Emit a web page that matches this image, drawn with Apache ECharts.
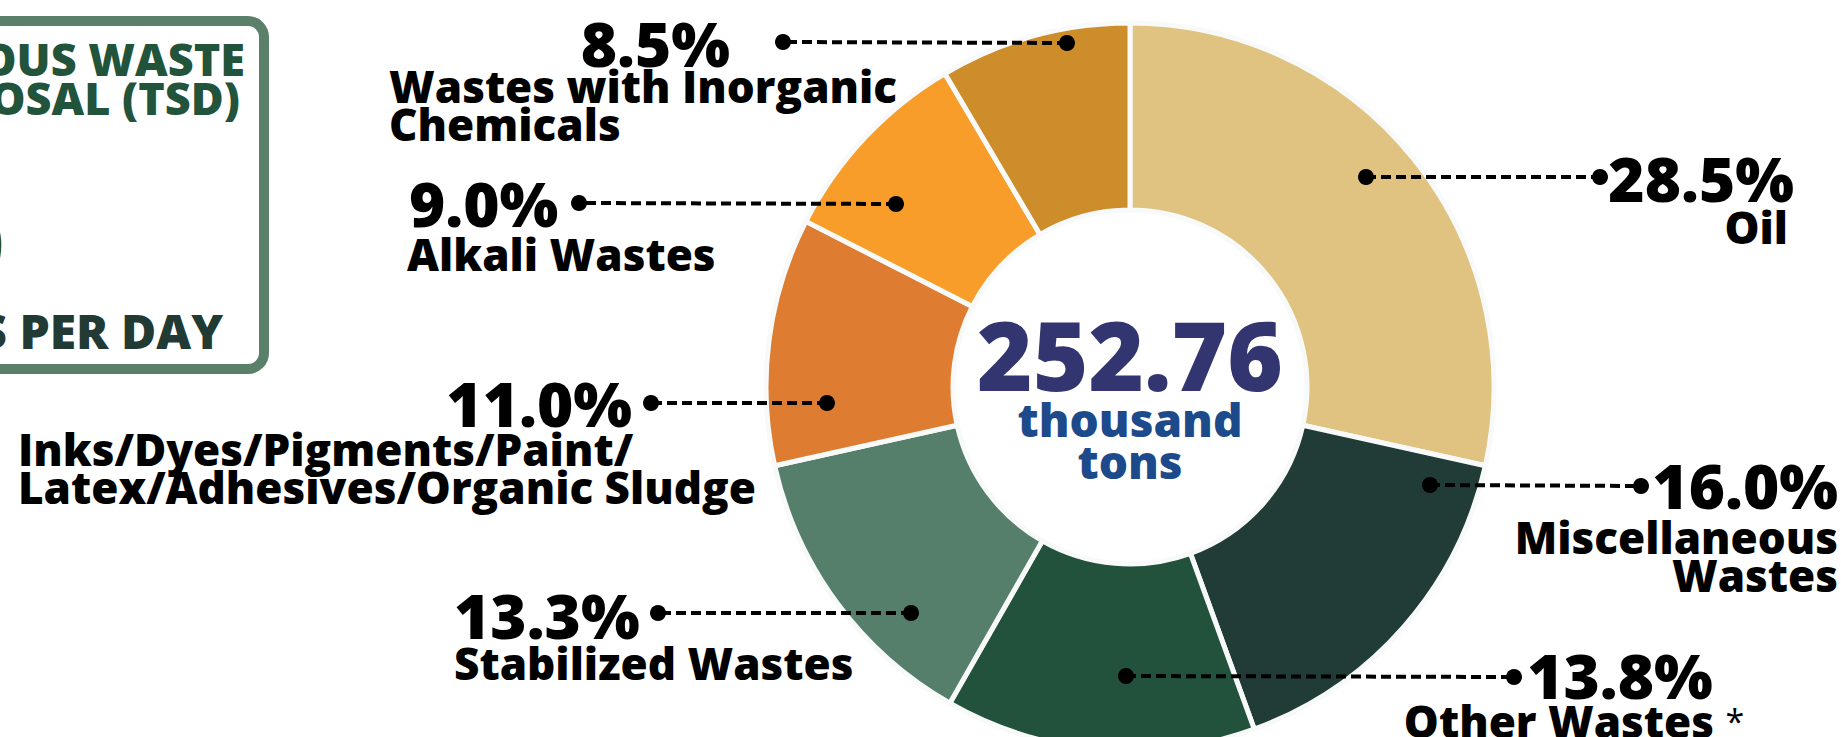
<!DOCTYPE html>
<html>
<head>
<meta charset="utf-8">
<title>Hazardous Waste TSD</title>
<script src="https://cdn.jsdelivr.net/npm/echarts@6/dist/echarts.min.js"></script>
<style>
  html, body { margin: 0; padding: 0; background: #fff; }
  #chart { width: 1841px; height: 737px; }
</style>
</head>
<body>
<div id="chart"></div>
<script>
// waste types, clockwise from 12 o'clock
const categories = [
  'Oil',
  'Miscellaneous\nWastes',
  'Other Wastes *',
  'Stabilized Wastes',
  'Inks/Dyes/Pigments/Paint/\nLatex/Adhesives/Organic Sludge',
  'Alkali Wastes',
  'Wastes with Inorganic\nChemicals'
]
const shares = [28.5, 16.0, 13.8, 13.3, 11.0, 9.0, 8.5]
const totalThousandTons = 252.76
const sliceColors = ['#e0c380', '#213b37', '#22523c', '#567f6b', '#de7d32', '#f89d29', '#cd8d2b']

// where the labels sit (px)
const leaderFrom = [[1366, 177], [1430, 485], [1126, 676], [911, 613], [827, 403], [896, 204], [1067, 43]]
const leaderTo = [[1600, 177], [1641, 486], [1514, 677], [658, 613], [651, 403], [579, 203], [783, 42]]
const pctPos = [[1794, 178, 'right'], [1838, 485, 'right'], [1620, 675, 'center'], [454, 615, 'left'],
  [632, 403, 'right'], [409, 203, 'left'], [730, 43, 'right']]
const namePos = [[1788, 227, 'right'], [1838, 556, 'right'], [1574, 721, 'center'], [454, 663, 'left'],
  [18, 468, 'left'], [407, 254, 'left'], [389, 105, 'left']]

const font = "'Open Sans', sans-serif"
const pieData = categories.map((name, i) => ({ name: name, value: shares[i] }))

let chart = echarts.init(document.getElementById('chart'), null, { renderer: 'svg' })

let dots = []
leaderFrom.concat(leaderTo).forEach(p => {
  dots.push({ type: 'circle', x: p[0], y: p[1], z: 100, shape: { r: 8 }, style: { fill: '#000' } })
})

let option = {
  animation: false,
  backgroundColor: '#fff',
  color: sliceColors,
  graphic: [
    {
      type: 'rect', z: 1,
      shape: { x: -40, y: 21, width: 304, height: 348, r: 16 },
      style: { fill: '#fff', stroke: '#5a806a', lineWidth: 10 }
    },
    { type: 'text', x: 245, y: 58, z: 2, style: { text: 'HAZARDOUS WASTE', align: 'right', verticalAlign: 'middle', font: '800 45px ' + font, fill: '#22533b' } },
    { type: 'text', x: 240, y: 97, z: 2, style: { text: 'DISPOSAL (TSD)', align: 'right', verticalAlign: 'middle', font: '800 45px ' + font, fill: '#22533b' } },
    { type: 'text', x: 4, y: 241, z: 2, style: { text: '690', align: 'right', verticalAlign: 'middle', font: '800 80px ' + font, fill: '#22533b' } },
    { type: 'text', x: 223, y: 330, z: 2, style: { text: 'TONS PER DAY', align: 'right', verticalAlign: 'middle', font: '800 48px ' + font, fill: '#213a33' } },
    { type: 'text', x: 1130, y: 354, z: 2, style: { text: totalThousandTons.toFixed(2), align: 'center', verticalAlign: 'middle', font: '800 95px ' + font, fill: '#32356f' } },
    { type: 'text', x: 1130, y: 419, z: 2, style: { text: 'thousand', align: 'center', verticalAlign: 'middle', font: '800 46px ' + font, fill: '#1c4a8a' } },
    { type: 'text', x: 1130, y: 461, z: 2, style: { text: 'tons', align: 'center', verticalAlign: 'middle', font: '800 46px ' + font, fill: '#1c4a8a' } }
  ].concat(dots),
  series: [
    {
      // coloured slices + category names
      type: 'pie',
      z: 2,
      center: [1130, 387],
      radius: [177, 364],
      startAngle: 90,
      clockwise: true,
      avoidLabelOverlap: false,
      itemStyle: { borderColor: '#f8faf9', borderWidth: 5 },
      label: {
        show: true,
        position: 'outside',
        formatter: p => p.name.replace(' *', ' {a|*}'),
        color: '#000',
        fontFamily: font,
        fontWeight: 800,
        fontSize: 44,
        lineHeight: 38,
        rich: {
          a: { fontFamily: font, fontWeight: 400, fontSize: 34, color: '#000' }
        }
      },
      labelLine: { show: false },
      labelLayout: function (params) {
        let i = params.dataIndex
        return {
          x: namePos[i][0],
          y: namePos[i][1],
          align: namePos[i][2],
          verticalAlign: 'middle'
        }
      },
      emphasis: { disabled: true },
      data: pieData
    },
    {
      // same slices, see-through, carrying percentages and dashed leaders on top
      type: 'pie',
      z: 3,
      center: [1130, 387],
      radius: [177, 364],
      startAngle: 90,
      clockwise: true,
      silent: true,
      avoidLabelOverlap: false,
      itemStyle: { color: 'rgba(0,0,0,0)', borderWidth: 0 },
      label: {
        show: true,
        position: 'outside',
        formatter: p => p.value.toFixed(1) + '%',
        color: '#000',
        fontFamily: font,
        fontWeight: 800,
        fontSize: 62
      },
      labelLine: {
        show: true,
        showAbove: true,
        lineStyle: { color: '#000', width: 4, type: [10, 5] }
      },
      labelLayout: function (params) {
        let i = params.dataIndex
        let a = leaderFrom[i], b = leaderTo[i]
        return {
          x: pctPos[i][0],
          y: pctPos[i][1],
          align: pctPos[i][2],
          verticalAlign: 'middle',
          labelLinePoints: [a, [(a[0] + b[0]) / 2, (a[1] + b[1]) / 2], b]
        }
      },
      emphasis: { disabled: true },
      data: pieData
    }
  ]
}

chart.setOption(option)
</script>
</body>
</html>
